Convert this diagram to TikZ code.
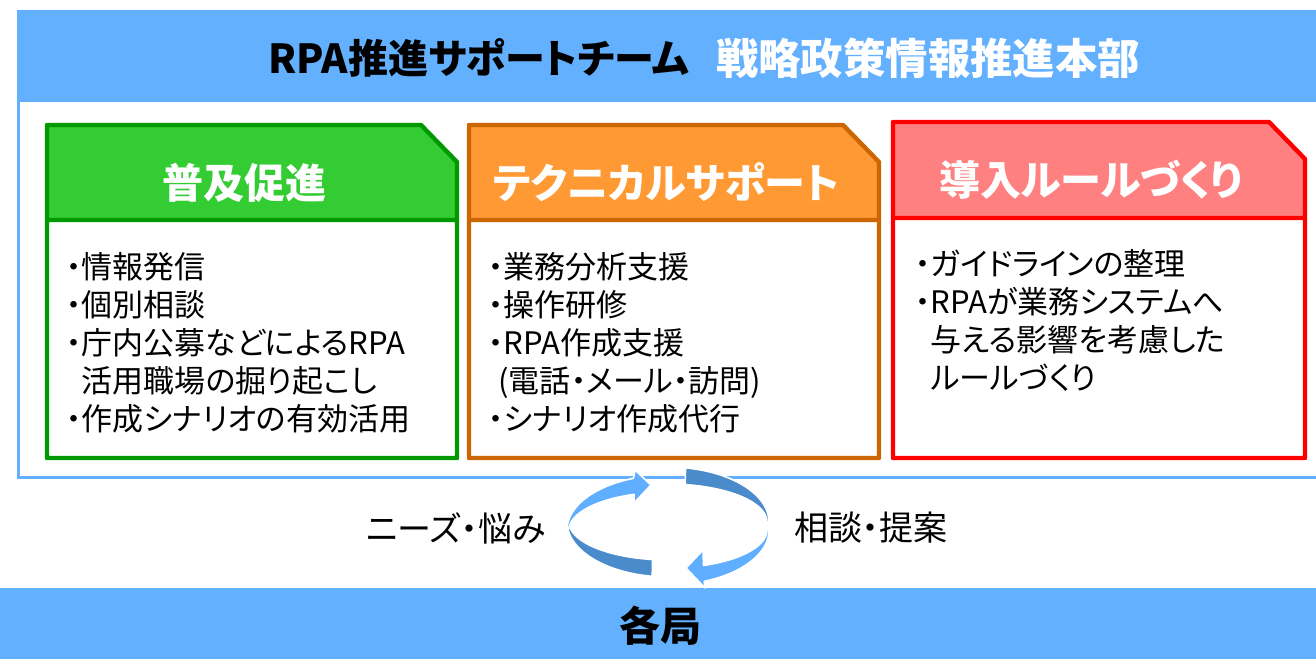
\documentclass[tikz,border=0pt]{standalone}
\usepackage{fontspec}
\setmainfont{Noto Sans CJK JP}[RawFeature=+palt]
\usetikzlibrary{positioning}

\definecolor{bandblue}{RGB}{99,176,255}
\definecolor{ringdark}{RGB}{74,139,204}
\definecolor{ringlight}{RGB}{95,174,255}
\definecolor{gfill}{RGB}{51,204,51}
\definecolor{gline}{RGB}{0,153,0}
\definecolor{ofill}{RGB}{255,153,51}
\definecolor{oline}{RGB}{204,102,0}
\definecolor{rfill}{RGB}{255,128,128}
\definecolor{rline}{RGB}{255,0,0}

\begin{document}
\begin{tikzpicture}[x=0.5pt, y=-0.5pt,
    titletext/.style={inner sep=0pt, font=\fontsize{20}{24}\selectfont\bfseries},
    headtext/.style={text=white, font=\fontsize{20.5}{24}\selectfont\bfseries},
    bodytext/.style={anchor=north west, align=left, inner sep=0pt, font=\fontsize{15.5}{19}\selectfont},
    sidetext/.style={inner sep=0pt, font=\fontsize{17}{20}\selectfont},
    ringpart/.style={draw=white, line width=0.8pt, line join=round}]

    \useasboundingbox (0,0) rectangle (1316,659);
    \clip (0,0) rectangle (1316,659);

    % team frame
    \fill[bandblue] (17,10) rectangle (1330,102);
    \draw[bandblue, line width=1.5pt] (18.5,102) -- (18.5,477.5) -- (1330,477.5);
    \node[titletext, anchor=west] (team) at (268,58) {RPA推進サポートチーム};
    \node[titletext, text=white, font=\fontsize{21.2}{24}\selectfont\bfseries] (dept) [right=13pt of team] {戦略政策情報推進本部};

    % three boxes
    \foreach \nm/\xl/\xr/\yt/\yh/\fc/\lc/\ttl in {
        spread/47/457/125/220/gfill/gline/普及促進,
        tech/469/879/125/220/ofill/oline/テクニカルサポート,
        rule/893/1305/122/218/rfill/rline/導入ルールづくり}{
        \fill[\fc] (\xl,\yt) -- (\xr-36,\yt) -- (\xr,\yt+37) -- (\xr,\yh) -- (\xl,\yh) -- cycle;
        \draw[\lc, line width=2.2pt, line join=round]
            (\xl,\yt) -- (\xr-36,\yt) -- (\xr,\yt+37) -- (\xr,458) -- (\xl,458) -- cycle
            (\xl,\yh) -- (\xr,\yh);
        \node[headtext] (\nm-head) at ({(\xl+\xr)/2-8},{(\yt+\yh)/2+10}) {\ttl};
    }

    \node[bodytext] (spread-list) at (66,252) {・情報発信\\・個別相談\\・庁内公募などによるRPA\\\phantom{・}活用職場の掘り起こし\\・作成シナリオの有効活用};
    \node[bodytext] (tech-list) at (488,252) {・業務分析支援\\・操作研修\\・RPA作成支援\\\hspace*{5pt}(電話・メール・訪問)\\・シナリオ作成代行};
    \node[bodytext] (rule-list) at (915,249) {・ガイドラインの整理\\・RPAが業務システムへ\\\phantom{・}与える影響を考慮した\\\phantom{・}ルールづくり};

    % bureaus
    \fill[bandblue] (0,588) rectangle (1316,659);
    \node[headtext, text=black] (bureaus) at (660,626) {各局};

    % cycle
    \filldraw[ringpart, fill=ringdark]
        plot[domain=80:0, samples=25] ({668+101*cos(\x)},{522-55*sin(\x)})
        -- plot[domain=0:80, samples=25] ({668+99*cos(\x)},{522-38*sin(\x)}) -- cycle;
    \filldraw[ringpart, fill=ringdark]
        plot[domain=183:261, samples=25] ({668+101*cos(\x)},{522-55*sin(\x)})
        -- plot[domain=261:183, samples=25] ({668+99*cos(\x)},{522-38*sin(\x)}) -- cycle;
    \filldraw[ringpart, fill=ringlight]
        plot[domain=178:110, samples=25] ({668+101*cos(\x)},{530-55*sin(\x)})
        -- (635,470) -- (651,485) -- (634,503)
        -- plot[domain=110:178, samples=25] ({668+99*cos(\x)},{530-38*sin(\x)}) -- cycle;
    \filldraw[ringpart, fill=ringlight]
        plot[domain=0:-69, samples=25] ({668+101*cos(\x)},{530-55*sin(\x)})
        -- (705,588) -- (686,568) -- (703,550)
        -- plot[domain=-69:0, samples=25] ({668+99*cos(\x)},{530-38*sin(\x)}) -- cycle;

    \node[sidetext, anchor=east] (needs) at (546,528) {ニーズ・悩み};
    \node[sidetext, anchor=west] (advice) at (794,528) {相談・提案};
\end{tikzpicture}
\end{document}
